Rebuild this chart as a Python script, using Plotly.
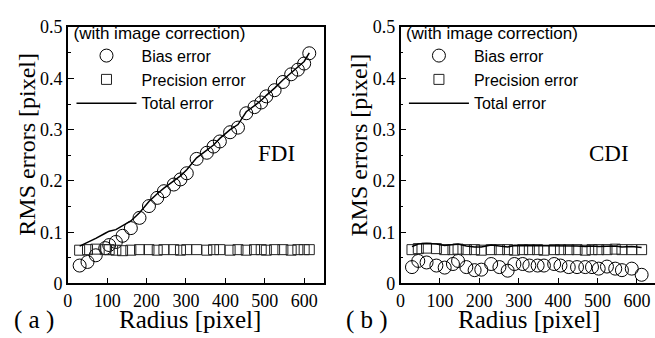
import plotly.graph_objects as go

# ---------------- data ----------------
radius_fdi = [30, 50, 71, 95, 105, 122, 139, 160, 182, 206, 227, 244, 269, 286, 302, 327,
              353, 370, 386, 412, 432, 453, 474, 491, 504, 525, 546, 567, 584, 600, 613]
bias_fdi = [0.035, 0.042, 0.055, 0.069, 0.075, 0.081, 0.093, 0.108, 0.128, 0.151,
            0.167, 0.180, 0.193, 0.203, 0.215, 0.243, 0.255, 0.267, 0.277, 0.295,
            0.304, 0.332, 0.344, 0.353, 0.365, 0.377, 0.393, 0.408, 0.417, 0.429, 0.449]
prec_fdi = [0.065, 0.066, 0.067, 0.066, 0.066, 0.065, 0.064, 0.065, 0.066, 0.066,
            0.065, 0.066, 0.066, 0.065, 0.066, 0.066, 0.065, 0.066, 0.066, 0.065,
            0.066, 0.065, 0.066, 0.066, 0.065, 0.066, 0.066, 0.065, 0.066, 0.066, 0.066]
total_fdi = [0.073, 0.080, 0.088, 0.098, 0.102, 0.105, 0.112, 0.122, 0.138, 0.160,
             0.175, 0.186, 0.200, 0.210, 0.222, 0.245, 0.260, 0.270, 0.283, 0.300,
             0.310, 0.335, 0.347, 0.357, 0.367, 0.381, 0.397, 0.411, 0.421, 0.433, 0.450]

radius_cdi = [29, 45, 66, 91, 112, 133, 146, 167, 188, 205, 230, 251, 272, 289, 310,
              327, 348, 364, 390, 406, 427, 448, 469, 486, 503, 524, 545, 562, 587, 612]
bias_cdi = [0.032, 0.044, 0.041, 0.035, 0.031, 0.038, 0.044, 0.032, 0.026, 0.027,
            0.038, 0.032, 0.025, 0.038, 0.038, 0.035, 0.035, 0.035, 0.038, 0.035,
            0.032, 0.032, 0.032, 0.032, 0.029, 0.033, 0.029, 0.026, 0.029, 0.017]
prec_cdi = [0.066, 0.068, 0.069, 0.068, 0.066, 0.066, 0.067, 0.066, 0.066, 0.065,
            0.066, 0.066, 0.066, 0.065, 0.066, 0.066, 0.066, 0.065, 0.066, 0.066,
            0.066, 0.066, 0.065, 0.066, 0.066, 0.066, 0.067, 0.066, 0.066, 0.066]
total_cdi = [0.072, 0.077, 0.078, 0.077, 0.074, 0.075, 0.077, 0.073, 0.071, 0.071,
             0.075, 0.073, 0.071, 0.074, 0.074, 0.073, 0.073, 0.073, 0.074, 0.073,
             0.073, 0.073, 0.072, 0.073, 0.072, 0.073, 0.073, 0.071, 0.072, 0.070]

x_ticks = [0, 100, 200, 300, 400, 500, 600]
y_ticks = [0, 0.1, 0.2, 0.3, 0.4, 0.5]
legend_title = "(with image correction)"
series_names = ["Bias error", "Precision error", "Total error"]
panel_names = ["FDI", "CDI"]
panel_labels = ["( a )", "( b )"]
x_title = "Radius [pixel]"
y_title = "RMS errors [pixel]"

# ---------------- figure ----------------
W, H = 655, 338
SERIF = "Liberation Serif"
SANS = "Liberation Sans"

fig = go.Figure()

panels = [
    (radius_fdi, bias_fdi, prec_fdi, total_fdi, "x", "y", "legend"),
    (radius_cdi, bias_cdi, prec_cdi, total_cdi, "x2", "y2", "legend2"),
]
for r, b, p, t, xa, ya, lg in panels:
    fig.add_trace(go.Scatter(x=r, y=b, mode="markers", name=series_names[0],
                             xaxis=xa, yaxis=ya, legend=lg,
                             marker=dict(symbol="circle-open", size=13,
                                         color="black", line=dict(width=1, color="black"))))
    fig.add_trace(go.Scatter(x=r, y=p, mode="markers", name=series_names[1],
                             xaxis=xa, yaxis=ya, legend=lg,
                             marker=dict(symbol="square-open", size=10,
                                         color="#222", line=dict(width=1, color="#222"))))
    fig.add_trace(go.Scatter(x=r, y=t, mode="lines", name=series_names[2],
                             xaxis=xa, yaxis=ya, legend=lg,
                             line=dict(color="black", width=1.5)))

px_per_unit = (321.3 - 63.3) / 650.0
left_dom = [63.3 / W, 321.3 / W]
right_dom = [398.6 / W, 1.0]
right_max = (W - 398.6) / px_per_unit
y_dom = [47.3 / H, (H - 18.2) / H]

axis_common = dict(showline=True, linecolor="black", linewidth=1.5, mirror=True,
                   ticks="inside", ticklen=6, tickwidth=1.2, tickcolor="black",
                   showgrid=False, zeroline=False,
                   tickfont=dict(family=SERIF, size=18, color="black"))

fig.update_layout(
    width=W, height=H, margin=dict(l=0, r=0, t=0, b=0),
    paper_bgcolor="white", plot_bgcolor="white",
    xaxis=dict(domain=left_dom, range=[0, 650], tickvals=x_ticks, anchor="y", **axis_common),
    yaxis=dict(domain=y_dom, range=[0, 0.5], tickvals=y_ticks, anchor="x",
               minor=dict(dtick=0.05, ticks="inside", ticklen=3, tickcolor="black"),
               **axis_common),
    xaxis2=dict(domain=right_dom, range=[0, right_max], tickvals=x_ticks, anchor="y2",
                **axis_common),
    yaxis2=dict(domain=y_dom, range=[0, 0.5], tickvals=y_ticks, anchor="x2",
                minor=dict(dtick=0.05, ticks="inside", ticklen=3, tickcolor="black"),
                **{**axis_common, "mirror": False}),
    showlegend=True,
)

for key, xl in (("legend", 67), ("legend2", 402)):
    fig.update_layout({key: dict(
        x=xl / W, y=(H - 7) / H, xanchor="left", yanchor="top",
        bgcolor="rgba(0,0,0,0)", borderwidth=0,
        font=dict(family=SANS, size=16, color="black"),
        title=dict(text=legend_title, font=dict(family=SANS, size=17, color="black")),
        itemwidth=60, tracegroupgap=0,
    )})

ann = []
for i, x0 in enumerate((63.3, 398.6)):
    # y axis title
    ann.append(dict(text=y_title, x=(x0 - 42) / W, y=(H - 143) / H, xref="paper", yref="paper",
                    textangle=-90, showarrow=False, xanchor="center", yanchor="middle",
                    font=dict(family=SERIF, size=24, color="black")))
    # x axis title
    cx = (x0 + 123) / W if i == 0 else (x0 + 129) / W
    ann.append(dict(text=x_title, x=cx, y=(H - 329) / H, xref="paper", yref="paper",
                    showarrow=False, xanchor="center", yanchor="middle",
                    font=dict(family=SERIF, size=25, color="black")))
    # panel label
    ann.append(dict(text=panel_labels[i], x=(x0 - 34) / W, y=(H - 329) / H, xref="paper", yref="paper",
                    showarrow=False, xanchor="center", yanchor="middle",
                    font=dict(family=SERIF, size=25, color="black")))
    # FDI / CDI
    ann.append(dict(text=panel_names[i], x=(x0 + 210) / W, y=(H - 153) / H, xref="paper", yref="paper",
                    showarrow=False, xanchor="center", yanchor="middle",
                    font=dict(family=SERIF, size=23, color="black")))
fig.update_layout(annotations=ann)

fig.write_html("out.html")
